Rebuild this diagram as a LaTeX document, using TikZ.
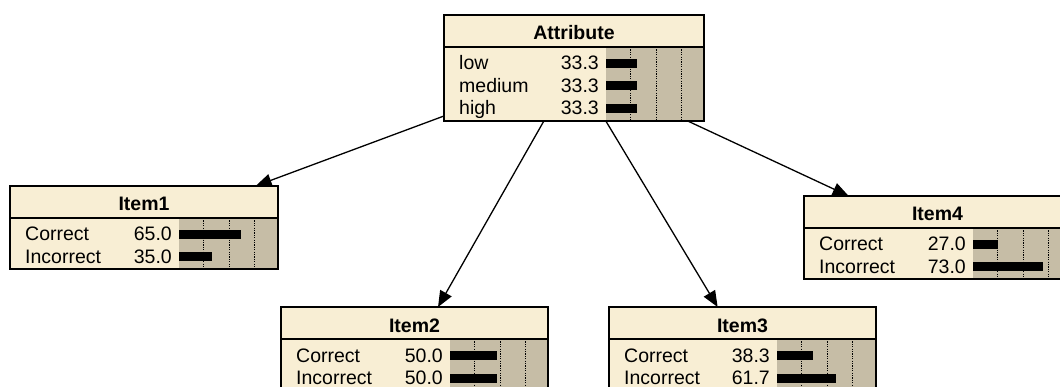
\documentclass[tikz,border=0pt]{standalone}
\usepackage{fontspec}
\setmainfont{Liberation Sans}
\usetikzlibrary{calc,arrows.meta}

\definecolor{nodecream}{HTML}{F8EED4}
\definecolor{bargray}{HTML}{C6BDA6}

\tikzset{
  nodefill/.style={rectangle, fill=nodecream, inner sep=0pt, outer sep=0pt, anchor=north west},
  frame/.style={draw=black, line width=2pt},
  barbg/.style={fill=bargray},
  gridline/.style={black, line width=0.9pt, dash pattern=on 1.2pt off 1.2pt},
  beliefbar/.style={fill=black},
  titletext/.style={font=\fontsize{19.5}{22}\selectfont\bfseries, anchor=base, inner sep=0pt},
  statelabel/.style={font=\fontsize{19.5}{22}\selectfont, anchor=base west, inner sep=0pt},
  stateval/.style={font=\fontsize{19.5}{22}\selectfont, anchor=base east, inner sep=0pt},
  link/.style={black, line width=1.3pt, -{Triangle[length=16pt,width=13pt]}}
}

% belief-bar node: name, left, top, width, height, offset of bar area, title
\newcommand{\bnnode}[7]{%
  \node[nodefill, minimum width=#4pt, minimum height=#5pt] (#1) at (#2,#3) {};
  \fill[barbg] ($(#1.north west)+(#6,32)$) rectangle (#1.south east);
  \foreach \g in {24.5,50,75.5}
    \draw[gridline] ($(#1.north west)+(#6+\g,32)$) -- ($(#1.south west)+(#6+\g,0)$);
  \node[titletext] at ($(#1.north)+(0,25)$) {#7};
}

% one state row: node, bar offset, row centre below top, label, value, percent
\newcommand{\bnrow}[6]{%
  \node[statelabel] at ($(#1.north west)+(15,#3+6.5)$) {#4};
  \node[stateval] at ($(#1.north west)+(#2-7,#3+6.5)$) {#5};
  \fill[beliefbar] ($(#1.north west)+(#2,#3-4.5)$) rectangle ++({0.97*#6-1.2},9);
}

% outline and title separator
\newcommand{\bnframe}[1]{%
  \draw[frame] (#1.north west) rectangle (#1.south east);
  \draw[frame] ($(#1.north west)+(0,32)$) -- ($(#1.north east)+(0,32)$);
}

\begin{document}
\begin{tikzpicture}[x=1pt,y=-1pt]
\useasboundingbox[fill=white] (0,0) rectangle (1060,387);

% parent node
\bnnode{attr}{444}{15}{260}{106}{162}{Attribute}
\bnrow{attr}{162}{48.5}{low}{33.3}{33.3}
\bnrow{attr}{162}{71}{medium}{33.3}{33.3}
\bnrow{attr}{162}{93.5}{high}{33.3}{33.3}
\bnframe{attr}

% item nodes
\bnnode{item1}{10}{186}{268}{83}{169}{Item1}
\bnrow{item1}{169}{48.5}{Correct}{65.0}{65.0}
\bnrow{item1}{169}{71}{Incorrect}{35.0}{35.0}
\bnframe{item1}

\bnnode{item2}{281}{307}{267}{83}{169}{Item2}
\bnrow{item2}{169}{48.5}{Correct}{50.0}{50.0}
\bnrow{item2}{169}{71}{Incorrect}{50.0}{50.0}
\bnframe{item2}

\bnnode{item3}{609}{307}{267}{83}{168}{Item3}
\bnrow{item3}{168}{48.5}{Correct}{38.3}{38.3}
\bnrow{item3}{168}{71}{Incorrect}{61.7}{61.7}
\bnframe{item3}

\bnnode{item4}{804}{196}{267}{83}{169}{Item4}
\bnrow{item4}{169}{48.5}{Correct}{27.0}{27.0}
\bnrow{item4}{169}{71}{Incorrect}{73.0}{73.0}
\bnframe{item4}

% dependencies
\draw[link] (attr) -- (item1);
\draw[link] (attr) -- (item2);
\draw[link] (attr) -- (item3);
\draw[link] (attr) -- (item4);
\end{tikzpicture}
\end{document}
